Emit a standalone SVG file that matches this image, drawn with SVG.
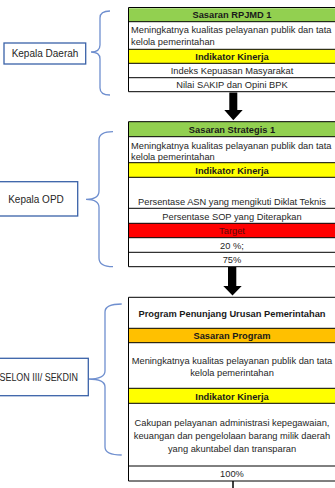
<svg xmlns="http://www.w3.org/2000/svg" width="335" height="488" viewBox="0 0 335 488">
<style>
text{font-family:"Liberation Sans",Arial,sans-serif;font-size:9.3px;fill:#262626}
.c{text-anchor:middle}
.b{font-weight:bold;fill:#1a1a1a}
.cell{stroke:#000;stroke-width:1}
.box{fill:#fff;stroke:#3a62a8;stroke-width:1.3}
.brace{fill:none;stroke:#6f8fcf;stroke-width:1.3}
.lbl{font-size:10px}
.arrow{fill:#000}
</style>
<rect width="335" height="488" fill="#fff"/>
<g id="connectors">
<path class="brace" d="M110,11Q100,11 100,18V45Q100,52 91,52Q100,52 100,59V88Q100,95 110,95"/>
<path class="brace" d="M113,131.7Q99,131.7 99,140V191Q99,199.3 86,199.3Q99,199.3 99,207.6V258Q99,266.7 113,266.7"/>
<path class="brace" d="M121.7,304Q105,304 105,312V371Q105,379 88.3,379Q105,379 105,387V447Q105,455 121.7,455"/>
<path class="arrow" d="M229.3,92.5H237.3V110H242.7L233.3,120.3L224.3,110H229.3Z"/>
<path class="arrow" d="M228,267H236.3V286H241.7L232.5,295.5L223.3,286H228Z"/>
<path d="M233,481V488" stroke="#000" stroke-width="1.5"/>
</g>
<g id="kepala-daerah">
<rect class="box" x="4" y="43" width="81.7" height="21"/>
<text class="c lbl" x="45" y="57">Kepala Daerah</text>
</g>
<g id="kepala-opd">
<rect class="box" x="-2" y="181.7" width="79.7" height="34.3"/>
<text class="c lbl" x="36" y="202.5">Kepala OPD</text>
</g>
<g id="eselon">
<rect class="box" x="-12" y="358.3" width="100.3" height="37.4"/>
<text class="lbl" x="-6.5" y="381" textLength="84.5" lengthAdjust="spacingAndGlyphs">ESELON III/ SEKDIN</text>
</g>
<g id="table-rpjmd">
<rect x="128.5" y="7.5" width="208" height="84.2" fill="#fff"/>
<rect x="128.5" y="8.3" width="208" height="13.4" fill="#92D050"/>
<rect x="128.5" y="49.3" width="208" height="14" fill="#FFFF00"/>
<path class="cell" d="M128.5,7.5H337M128.5,21.7H337M128.5,49.3H337M128.5,63.3H337M128.5,77.7H337M128.5,91.7H337M128.5,7.5V91.7"/>
<text class="c b" x="232" y="18.3">Sasaran RPJMD 1</text>
<text x="131" y="32.5">Meningkatnya kualitas pelayanan publik dan tata</text>
<text x="131" y="45">kelola pemerintahan</text>
<text class="c b" x="232" y="59.5">Indikator Kinerja</text>
<text class="c" x="232" y="73.8">Indeks Kepuasan Masyarakat</text>
<text class="c" x="232" y="88">Nilai SAKIP dan Opini BPK</text>
</g>
<g id="table-strategis">
<rect x="128.5" y="121.7" width="208" height="145" fill="#fff"/>
<rect x="128.5" y="121.7" width="208" height="15" fill="#92D050"/>
<rect x="128.5" y="162.7" width="208" height="14.6" fill="#FFFF00"/>
<rect x="128.5" y="223.3" width="208" height="14.4" fill="#FF0000"/>
<path class="cell" d="M128.5,121.7H337M128.5,136.7H337M128.5,162.7H337M128.5,177.3H337M128.5,208.3H337M128.5,223.3H337M128.5,237.7H337M128.5,252.3H337M128.5,266.7H337M128.5,121.7V266.7"/>
<text class="c b" x="232" y="132.8">Sasaran Strategis 1</text>
<text x="131" y="148.5">Meningkatnya kualitas pelayanan publik dan tata</text>
<text x="131" y="159.5">kelola pemerintahan</text>
<text class="c b" x="232" y="173.5">Indikator Kinerja</text>
<text class="c" x="232" y="204.5">Persentase ASN yang mengikuti Diklat Teknis</text>
<text class="c" x="232" y="219.5">Persentase SOP yang Diterapkan</text>
<text class="c" x="232" y="234" style="fill:#5a0a0a">Target</text>
<text class="c" x="232" y="248.5">20 %;</text>
<text class="c" x="232" y="263">75%</text>
</g>
<g id="table-program">
<rect x="128.5" y="297.3" width="208" height="183.7" fill="#fff"/>
<rect x="128.5" y="328.3" width="208" height="14.4" fill="#FFC000"/>
<rect x="128.5" y="388.3" width="208" height="15" fill="#FFFF00"/>
<path class="cell" d="M128.5,297.3H337M128.5,328.3H337M128.5,342.7H337M128.5,388.3H337M128.5,403.3H337M128.5,466H337M128.5,481H337M128.5,297.3V481"/>
<text class="c b" x="232" y="317">Program Penunjang Urusan Pemerintahan</text>
<text class="c b" x="232" y="339">Sasaran Program</text>
<text class="c" x="232" y="363.5">Meningkatnya kualitas pelayanan publik dan tata</text>
<text class="c" x="232" y="376">kelola pemerintahan</text>
<text class="c b" x="232" y="399.5">Indikator Kinerja</text>
<text class="c" x="232" y="426">Cakupan pelayanan administrasi kepegawaian,</text>
<text class="c" x="232" y="439">keuangan dan pengelolaan barang milik daerah</text>
<text class="c" x="232" y="452">yang akuntabel dan transparan</text>
<text class="c" x="232" y="477">100%</text>
</g>
</svg>
